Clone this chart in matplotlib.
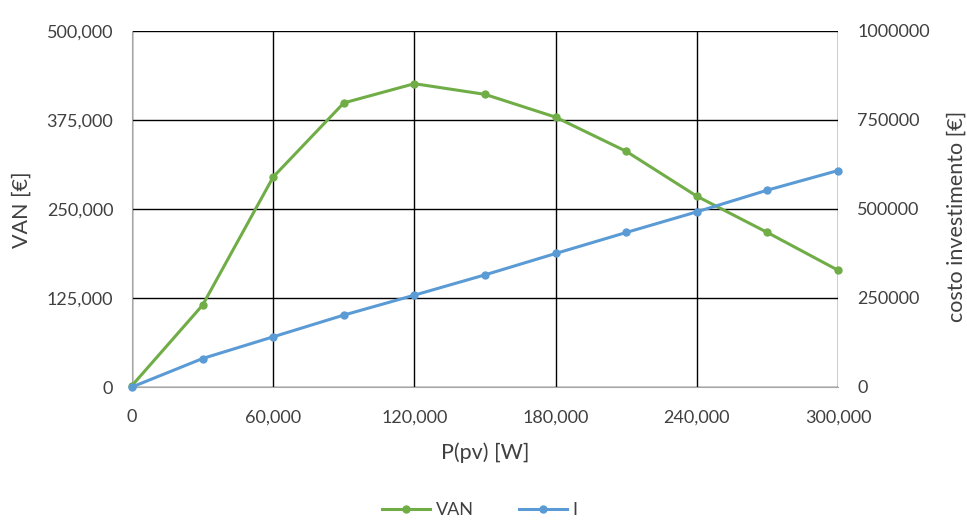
import matplotlib
matplotlib.use("Agg")
import matplotlib.pyplot as plt
from matplotlib.ticker import FuncFormatter

plt.rcParams['font.family'] = ['Lato', 'DejaVu Sans']

p_pv = [0, 30000, 60000, 90000, 120000, 150000, 180000, 210000, 240000, 270000, 300000]
van = [2000, 115000, 295000, 399000, 426000, 411000, 379000, 331000, 268000, 217000, 164000]
invest = [0, 80000, 141000, 202000, 258000, 315000, 375000, 434000, 492000, 553000, 608000]

x_ticks = [0, 60000, 120000, 180000, 240000, 300000]
left_ticks = [0, 125000, 250000, 375000, 500000]
right_ticks = [0, 250000, 500000, 750000, 1000000]

green = '#70AD47'
blue = '#5B9BD5'
txt = '#404040'

fig = plt.figure(figsize=(9.67, 5.27), dpi=100)
ax = fig.add_axes([132/967, 1-387/527, (838-132)/967, (387-31)/527])
ax2 = ax.twinx()

l1, = ax.plot(p_pv, van, color=green, lw=2.2, marker='o', ms=5, label='VAN', zorder=5, clip_on=False)
l2, = ax2.plot(p_pv, invest, color=blue, lw=2.2, marker='o', ms=5, label='I', zorder=5, clip_on=False)

ax.set_xlim(0, 300000)
ax.set_ylim(0, 500000)
ax2.set_ylim(0, 1000000)
ax.set_xticks(x_ticks)
ax.set_yticks(left_ticks)
ax2.set_yticks(right_ticks)
ax.xaxis.set_major_formatter(FuncFormatter(lambda v, p: f"{int(v):,}"))
ax.yaxis.set_major_formatter(FuncFormatter(lambda v, p: f"{int(v):,}"))
ax2.yaxis.set_major_formatter(FuncFormatter(lambda v, p: f"{int(v)}"))

ax.grid(True, color='black', lw=1.0)
ax.set_axisbelow(True)
for a in (ax, ax2):
    for s in a.spines.values():
        s.set_visible(False)
    a.tick_params(length=0, labelsize=13, colors='black', labelcolor=txt)
ax.spines['left'].set_visible(True)
ax.spines['left'].set_color('#A6A6A6')
ax.spines['bottom'].set_visible(True)
ax.spines['bottom'].set_color('#A6A6A6')
ax.tick_params(axis='x', pad=16)
ax.tick_params(axis='y', pad=13.5)
ax2.tick_params(axis='y', pad=14)

ax.set_xlabel('P(pv) [W]', fontsize=15.5, color=txt)
ax.set_ylabel('VAN [€]', fontsize=15.5, color=txt)
ax2.set_ylabel('costo investimento [€]', fontsize=15.5, color=txt)
ax.xaxis.set_label_coords(0.5, -0.185)
ax.yaxis.set_label_coords(-0.1558, 0.497)
ax2.yaxis.set_label_coords(1.1686, 0.48)
ax.xaxis.label.set_va('center')
ax.yaxis.label.set_va('center')
ax2.yaxis.label.set_va('center')

fig.legend(handles=[l1, l2], loc='center', bbox_to_anchor=(0.496, 0.032), ncol=2,
           frameon=False, fontsize=13, handlelength=2.65, handletextpad=0.3,
           columnspacing=2.5, labelcolor=txt)

fig.savefig('out.png', dpi=100)
